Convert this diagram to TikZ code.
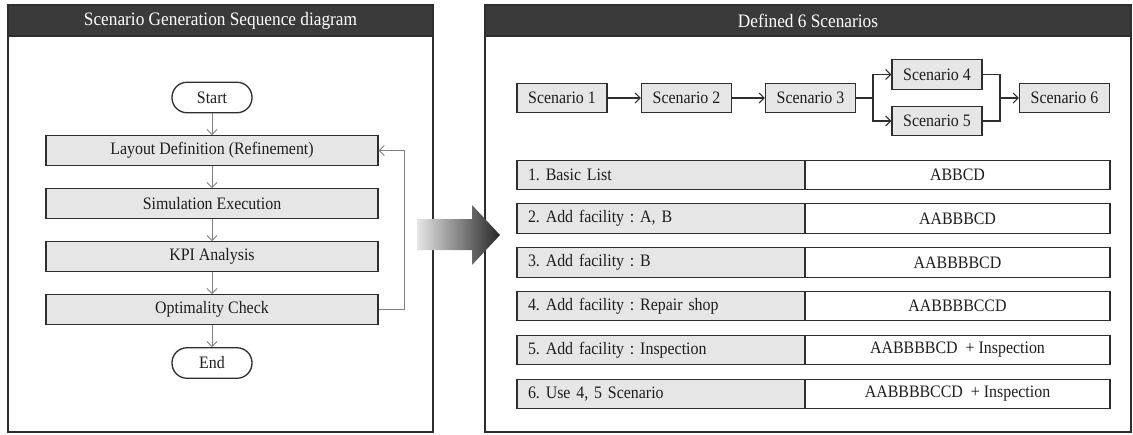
\documentclass[tikz,border=0pt]{standalone}
\usepackage{fontspec}
\setmainfont{Liberation Serif}[FakeStretch=0.91]
\frenchspacing
\usetikzlibrary{arrows.meta}
\definecolor{hdr}{HTML}{3A3A3A}
\definecolor{boxgray}{HTML}{E6E6E6}
\definecolor{edge}{HTML}{2E2E2E}
\definecolor{txt}{HTML}{1E1E1E}
\definecolor{flowline}{HTML}{808080}
\tikzset{
  panel/.style={draw=edge, line width=1.3pt, fill=white, inner sep=0pt},
  header/.style={draw=edge, line width=1.3pt, fill=hdr, text=white, inner sep=0pt, font=\fontsize{19}{22}\selectfont},
  procbox/.style={draw=edge, line width=1.3pt, fill=boxgray, text=txt, inner sep=0pt, minimum width=332pt, minimum height=29.5pt, font=\fontsize{17.5}{20}\selectfont},
  term/.style={draw=edge, line width=1.3pt, fill=white, text=txt, rounded corners=15pt, inner sep=0pt, minimum width=80pt, minimum height=30.5pt, font=\fontsize{17.5}{20}\selectfont},
  flowarrow/.style={draw=flowline, line width=0.9pt, -{Straight Barb[length=5pt,width=10pt]}},
  flowline/.style={draw=flowline, line width=0.9pt},
  scbox/.style={draw=edge, line width=1.3pt, fill=boxgray, text=txt, inner sep=0pt, minimum width=90pt, minimum height=29.5pt, font=\fontsize{17.5}{20}\selectfont},
  scarrow/.style={draw=edge, line width=1.1pt, -{Straight Barb[length=5pt,width=10pt]}},
  scline/.style={draw=edge, line width=1.1pt},
  lcell/.style={draw=edge, line width=1.3pt, fill=boxgray, text=txt, inner xsep=11pt, inner ysep=0pt, text width=266pt, align=left, minimum height=29.5pt, font=\fontsize{17.5}{20}\selectfont},
  rcell/.style={draw=edge, line width=1.3pt, fill=white, text=txt, inner sep=0pt, minimum width=305pt, minimum height=29.5pt, font=\fontsize{17.5}{20}\selectfont}
}
\begin{document}
\begin{tikzpicture}[x=1pt,y=-1pt]
\useasboundingbox[fill=white] (0,0) rectangle (1133,434);
% left panel
\node[panel, minimum width=425pt, minimum height=427pt] (lp) at (220.5,218.5) {};
\node[header, minimum width=425pt, minimum height=31pt] (lh) at (220.5,20.5) {Scenario Generation Sequence diagram};
% right panel
\node[panel, minimum width=646pt, minimum height=427pt] (rp) at (808,218.5) {};
\node[header, minimum width=646pt, minimum height=31pt] (rh) at (808,20.5) {Defined 6 Scenarios};
% flowchart
\node[term] (start) at (212,97.5) {Start};
\node[procbox] (layout) at (212,150.5) {Layout Definition (Refinement)};
\node[procbox] (sim) at (212,203.5) {Simulation Execution};
\node[procbox] (kpi) at (212,256.5) {KPI Analysis};
\node[procbox] (opt) at (212,309.5) {Optimality Check};
\node[term] (end) at (212,363) {End};
\draw[flowarrow] (start) -- (layout);
\draw[flowarrow] (layout) -- (sim);
\draw[flowarrow] (sim) -- (kpi);
\draw[flowarrow] (kpi) -- (opt);
\draw[flowarrow] (opt) -- (end);
\coordinate (fb) at (404,309.5);
\draw[flowline] (opt.east) -- (fb);
\draw[flowarrow] (fb) |- (layout.east);
% scenarios
\node[scbox] (s1) at (562,98) {Scenario 1};
\node[scbox] (s2) at (686.5,98) {Scenario 2};
\node[scbox] (s3) at (810.5,98) {Scenario 3};
\node[scbox] (s4) at (937,74.5) {Scenario 4};
\node[scbox] (s5) at (937,121) {Scenario 5};
\node[scbox] (s6) at (1064.5,98) {Scenario 6};
\draw[scarrow] (s1) -- (s2);
\draw[scarrow] (s2) -- (s3);
\coordinate (f1) at (873,98);
\coordinate (f2) at (1000,98);
\draw[scline] (s3.east) -- (f1);
\draw[scarrow] (f1) |- (s4.west);
\draw[scarrow] (f1) |- (s5.west);
\draw[scline] (s4.east) -| (f2);
\draw[scline] (s5.east) -| (f2);
\draw[scarrow] (f2) -- (s6.west);
% table
\foreach \i/\y/\l/\r in {1/175/{1. Basic List}/{ABBCD},
  2/218.5/{2. Add facility : A, B}/{AABBBCD},
  3/262.5/{3. Add facility : B}/{AABBBBCD},
  4/306/{4. Add facility : Repair shop}/{AABBBBCCD},
  5/350/{5. Add facility : Inspection}/{AABBBBCD\ \ + Inspection},
  6/394/{6. Use 4, 5 Scenario}/{AABBBBCCD\ \ + Inspection}}{
  \node[lcell] (l\i) at (661,\y) {\l};
  \node[rcell] (r\i) at (957.5,\y) {\r};
}
% big arrow
\shade[left color=black!10, right color=black!85] (417,219) -- (472,219) -- (472,205) -- (500,235) -- (472,265) -- (472,250) -- (417,250) -- cycle;
\end{tikzpicture}
\end{document}
